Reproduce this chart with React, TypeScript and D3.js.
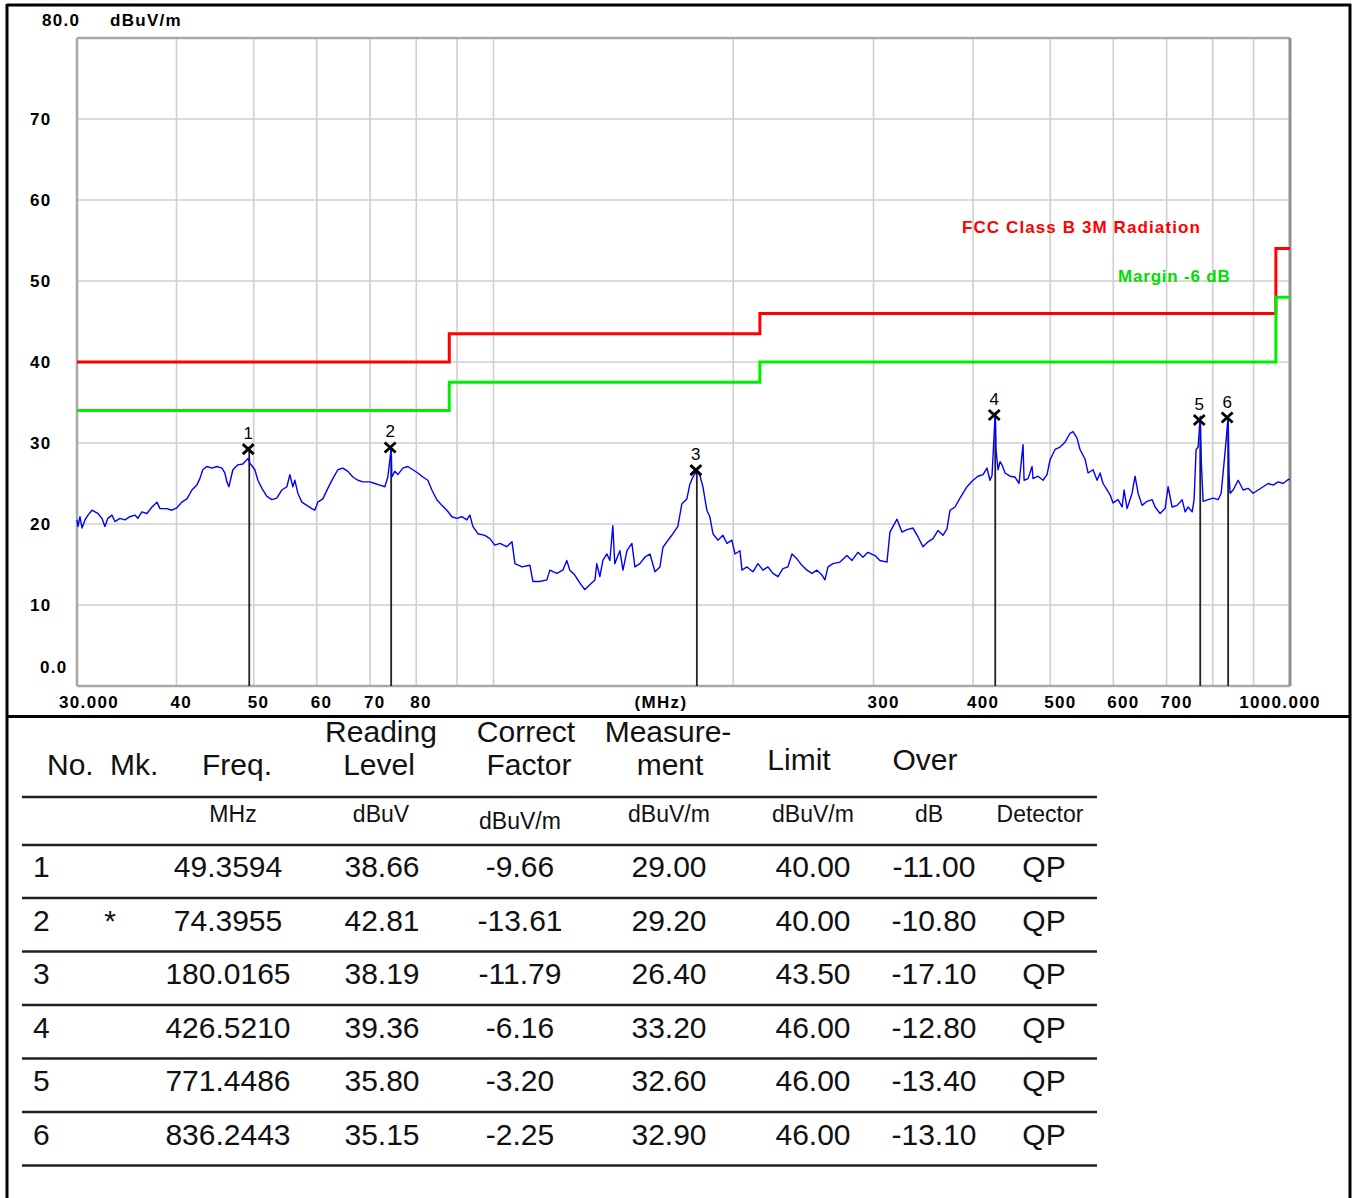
import React from 'react';
import * as d3 from 'd3';

// ---- Spectrum trace (MHz, dBuV/m) ----
const traceFreqMHz = [
  30.0, 30.09, 30.26, 30.44, 30.7, 30.97, 31.33, 31.6, 31.87, 32.24, 32.52, 32.8, 33.19, 33.48, 33.96, 34.46, 34.96, 35.47, 35.77, 36.19,
  36.72, 37.26, 37.8, 38.13, 38.9, 39.47, 40.04, 40.62, 41.22, 41.82, 42.42, 42.79, 43.16, 43.67, 44.31, 44.95, 45.61, 46.0, 46.27, 46.54,
  47.08, 47.76, 48.45, 49.2, 49.45, 50.17, 50.61, 51.2, 51.94, 52.7, 53.46, 54.24, 55.03, 55.51, 55.99, 56.32, 56.8, 57.47, 58.3, 59.15,
  59.66, 60.18, 61.06, 61.95, 62.85, 63.76, 64.69, 65.64, 66.6, 67.57, 68.55, 69.94, 70.96, 72.0, 73.05, 73.68, 74.4, 74.54, 75.19, 75.85,
  76.95, 78.07, 79.2, 80.36, 81.53, 82.72, 83.68, 84.9, 86.14, 87.39, 88.67, 89.95, 91.26, 92.59, 93.4, 94.21, 95.59, 97.54, 98.95,
  100.4, 101.9, 103.9, 105.5, 106.4, 108.6, 111.1, 112.1, 114.3, 116.7, 117.7, 120.1, 122.2, 123.6, 124.7, 126.5, 128.4, 130.2, 132.1, 134.1,
  134.8, 136.0, 137.2, 138.8, 140.0, 141.2, 142.0, 144.1, 145.4, 147.1, 149.2, 150.5, 152.7, 154.9, 157.2, 159.5, 161.8, 163.2, 165.6, 168.0,
  170.4, 172.4, 174.9, 176.4, 178.0, 180.0, 181.6, 183.2, 185.3, 186.9, 188.6, 191.3, 194.1, 196.4, 199.2, 201.0, 203.9, 205.1, 208.1, 211.7,
  214.8, 217.9, 221.1, 224.3, 227.6, 230.9, 234.2, 237.0, 240.4, 243.9, 247.5, 251.1, 254.7, 258.5, 260.7, 263.0, 266.8, 272.3, 277.8, 281.9,
  286.8, 291.0, 295.2, 301.3, 305.6, 311.9, 314.6, 321.1, 325.7, 330.5, 336.3, 341.2, 346.1, 351.2, 356.3, 361.5, 366.7, 371.0, 374.2, 379.7,
  385.2, 393.1, 400.0, 405.8, 411.7, 416.5, 420.1, 422.6, 426.5, 427.5, 430.0, 432.5, 435.0, 438.8, 445.2, 451.6, 456.9, 462.2, 463.6, 469.0,
  474.4, 475.8, 482.7, 489.7, 495.4, 499.7, 507.0, 514.4, 521.9, 529.5, 534.1, 540.3, 545.0, 553.0, 557.8, 565.9, 572.5, 577.5, 582.5, 589.3,
  594.4, 599.6, 608.4, 615.5, 619.0, 624.4, 633.5, 639.0, 644.6, 652.1, 661.6, 671.3, 677.1, 686.9, 696.9, 703.0, 711.2, 721.6, 732.1, 738.5,
  744.9, 753.6, 757.9, 762.3, 766.8, 771.4, 774.0, 777.9, 789.3, 800.8, 812.4, 819.5, 826.7, 831.5, 836.2, 838.6, 841.1, 848.4, 860.8, 873.4,
  886.0, 899.0, 912.1, 925.3, 938.8, 952.4, 966.4, 980.4, 994.7, 1000.0,
];
const traceLevel = [
  20.5, 19.7, 20.9, 19.5, 20.5, 21.1, 21.7, 21.5, 21.3, 20.7, 19.7, 20.7, 21.1, 20.3, 20.7, 20.5, 20.9, 21.1, 20.7, 21.5,
  21.3, 22.1, 22.7, 21.9, 21.9, 21.7, 22.0, 22.7, 23.1, 24.2, 24.8, 25.6, 26.7, 27.1, 26.9, 27.1, 26.9, 26.3, 25.2, 24.6,
  26.7, 27.3, 27.4, 28.1, 27.5, 26.7, 25.4, 24.4, 23.4, 23.0, 23.2, 24.2, 24.6, 26.1, 24.6, 25.4, 23.8, 22.7, 22.3, 21.9,
  21.7, 22.7, 23.1, 24.4, 25.6, 26.7, 26.9, 26.5, 25.8, 25.4, 25.2, 25.2, 25.0, 24.8, 24.6, 25.8, 29.3, 25.8, 26.5, 26.1,
  26.9, 27.1, 26.7, 26.3, 25.8, 25.4, 24.2, 23.0, 22.3, 21.7, 20.9, 20.7, 20.9, 20.5, 21.1, 19.7, 18.8, 18.6, 18.2,
  17.4, 17.6, 17.2, 17.8, 15.1, 14.7, 14.9, 12.9, 12.9, 13.1, 14.3, 13.9, 14.3, 15.5, 14.3, 13.7, 12.7, 11.9, 12.5, 13.1,
  15.1, 13.5, 15.5, 16.3, 15.5, 19.8, 15.1, 16.7, 14.3, 16.7, 17.6, 14.7, 15.1, 15.9, 16.3, 14.1, 14.7, 17.1, 18.0, 18.8,
  19.7, 22.5, 23.1, 24.9, 25.8, 26.6, 26.0, 24.6, 21.7, 20.9, 18.8, 18.0, 18.6, 17.6, 18.0, 16.3, 16.7, 14.3, 14.7, 14.1,
  15.1, 14.3, 14.7, 13.9, 13.5, 14.5, 14.7, 16.3, 15.7, 14.9, 14.3, 13.9, 14.3, 13.7, 13.1, 14.7, 15.1, 15.3, 16.1, 15.5,
  16.5, 15.9, 16.5, 16.1, 15.5, 15.3, 19.0, 20.6, 19.0, 19.3, 19.5, 18.4, 17.2, 17.8, 18.2, 19.2, 18.6, 19.4, 21.7, 22.1,
  23.2, 24.6, 25.4, 25.9, 26.1, 26.9, 25.4, 26.0, 33.7, 29.2, 26.7, 27.7, 27.3, 26.3, 25.9, 25.8, 25.0, 29.8, 25.4, 25.6,
  27.1, 25.6, 25.9, 25.4, 26.1, 27.9, 29.2, 29.5, 30.1, 31.2, 31.4, 30.6, 29.2, 28.0, 26.3, 26.7, 25.4, 26.3, 25.0, 24.2,
  23.6, 22.6, 23.0, 22.1, 24.2, 21.9, 23.8, 25.9, 23.8, 22.3, 22.8, 23.0, 22.1, 21.3, 21.9, 24.6, 22.1, 22.3, 23.0, 21.5,
  22.1, 21.5, 23.0, 29.2, 29.5, 33.3, 27.5, 22.8, 23.0, 23.2, 23.0, 23.8, 27.7, 30.4, 33.3, 26.0, 23.8, 24.2, 25.4, 24.2,
  24.4, 23.8, 24.2, 24.6, 25.0, 24.8, 25.2, 25.0, 25.5, 25.5,
];

// ---- Limit line (FCC Class B 3M) and margin ----
const limitFreqMHz = [30, 88, 216, 960, 1000];
const limitLevel = [40, 43.5, 46, 54, 54];
const marginDb = -6;
const limitName = 'FCC Class B 3M Radiation';
const marginName = 'Margin -6 dB';

// ---- Axis ticks ----
const xTickValues = [30, 40, 50, 60, 70, 80, 300, 400, 500, 600, 700, 1000];
const xTickLabels = ['30.000', '40', '50', '60', '70', '80', '300', '400', '500', '600', '700', '1000.000'];
const xGridValues = [40, 50, 60, 70, 80, 90, 100, 200, 300, 400, 500, 600, 700, 800, 900];
const yTickValues = [0, 10, 20, 30, 40, 50, 60, 70, 80];
const yTickLabels = ['0.0', '10', '20', '30', '40', '50', '60', '70', '80.0'];

// ---- Marker table ----
const markerNo = [1, 2, 3, 4, 5, 6];
const markerMk = ['', '*', '', '', '', ''];
const markerFreq = [49.3594, 74.3955, 180.0165, 426.521, 771.4486, 836.2443];
const readingLevel = [38.66, 42.81, 38.19, 39.36, 35.8, 35.15];
const correctFactor = [-9.66, -13.61, -11.79, -6.16, -3.2, -2.25];
const measurement = [29.0, 29.2, 26.4, 33.2, 32.6, 32.9];
const limitValue = [40.0, 40.0, 43.5, 46.0, 46.0, 46.0];
const overValue = [-11.0, -10.8, -17.1, -12.8, -13.4, -13.1];
const detector = ['QP', 'QP', 'QP', 'QP', 'QP', 'QP'];

const W = 1357;
const H = 1198;
const PL = 77, PR = 1290, PT = 38, PB = 686;

const chartFont = "'Liberation Sans', Arial, sans-serif";
const tableFont = "'Liberation Sans', Arial, sans-serif";

export default function App() {
  const x = d3.scaleLog().domain([30, 1000]).range([PL, PR]);
  const y = d3.scaleLinear().domain([0, 80]).range([PB, PT]);

  const tracePts: [number, number][] = traceFreqMHz.map((f, i) => [f, traceLevel[i]]);
  const traceLine = d3.line<[number, number]>().x(d => x(d[0])).y(d => y(d[1]))(tracePts) || '';

  const limPts: [number, number][] = limitFreqMHz.map((f, i) => [f, limitLevel[i]]);
  const stepLine = d3.line<[number, number]>().x(d => x(d[0])).y(d => y(d[1])).curve(d3.curveStepAfter);
  const limitPath = stepLine(limPts) || '';
  const marginPath = stepLine(limPts.map(([f, v]) => [f, v + marginDb] as [number, number])) || '';

  const chartText = { fontFamily: chartFont, fontWeight: 700, fontSize: 17, letterSpacing: 1.3 } as const;

  // table layout
  const tableLeft = 22, tableRight = 1097;
  const headLineY = 797, unitLineY = 845, rowH = 53;
  const rowLineY = markerNo.map((_, i) => unitLineY + rowH * (i + 1) + 0.5 * i);
  const colCenters = { freq: 228, read: 382, corr: 520, meas: 669, lim: 813, over: 934, det: 1044 };

  return (
    <svg width={W} height={H} style={{ position: 'absolute', left: 0, top: 0, background: '#fff' }}>
      <rect x={0} y={0} width={W} height={H} fill="#fff" />
      {/* outer frame */}
      <line x1={7} y1={5} x2={1351} y2={5} stroke="#000" strokeWidth={3} />
      <line x1={7} y1={4} x2={7} y2={H} stroke="#000" strokeWidth={3} />
      <line x1={1350} y1={4} x2={1350} y2={H} stroke="#000" strokeWidth={3} />
      <line x1={7} y1={716.5} x2={1351} y2={716.5} stroke="#000" strokeWidth={3} />

      {/* grid */}
      {yTickValues.filter(v => v > 0 && v < 80).map(v => (
        <line key={'gy' + v} x1={PL} x2={PR} y1={y(v)} y2={y(v)} stroke="#cfcfcf" strokeWidth={1.6} />
      ))}
      {xGridValues.map(v => (
        <line key={'gx' + v} x1={x(v)} x2={x(v)} y1={PT} y2={PB} stroke="#cfcfcf" strokeWidth={1.6} />
      ))}
      {/* plot border */}
      <line x1={PL} x2={PR} y1={PT} y2={PT} stroke="#a8a8a8" strokeWidth={2.5} />
      <line x1={PL} x2={PR} y1={PB} y2={PB} stroke="#a8a8a8" strokeWidth={2.5} />
      <line x1={PL} x2={PL} y1={PT} y2={PB} stroke="#a8a8a8" strokeWidth={2.5} />
      <line x1={PR} x2={PR} y1={PT} y2={PB} stroke="#909090" strokeWidth={3} />

      {/* limit and margin */}
      <path d={limitPath} fill="none" stroke="#ff0000" strokeWidth={3} />
      <path d={marginPath} fill="none" stroke="#00ee00" strokeWidth={3} />
      <text x={962} y={233} fill="#ff0000" {...chartText} fontSize={17} letterSpacing={1.1}>{limitName}</text>
      <text x={1118} y={282} fill="#00dd00" {...chartText} fontSize={17} letterSpacing={0.8}>{marginName}</text>

      {/* marker vertical lines */}
      {markerFreq.map((f, i) => (
        <line key={'ml' + i} x1={x(f)} x2={x(f)} y1={y(measurement[i])} y2={PB} stroke="#222" strokeWidth={1.8} />
      ))}

      {/* trace */}
      <path d={traceLine} fill="none" stroke="#0000ff" strokeWidth={1.4} strokeLinejoin="round" />

      {/* marker symbols */}
      {markerFreq.map((f, i) => {
        const cx = x(f) - 1;
        const cy = y(measurement[i]) - 2;
        return (
          <g key={'mk' + i}>
            <path d={`M${cx - 5.5},${cy - 5}L${cx + 5.5},${cy + 5}M${cx - 5.5},${cy + 5}L${cx + 5.5},${cy - 5}`} stroke="#000" strokeWidth={2.8} fill="none" />
            <text x={cx} y={cy - 10} textAnchor="middle" fontFamily={chartFont} fontSize={17} fill="#000">{markerNo[i]}</text>
          </g>
        );
      })}

      {/* y axis labels */}
      {yTickValues.map((v, i) => {
        if (v === 0) return <text key={'yl' + v} x={40} y={673} {...chartText}>{yTickLabels[i]}</text>;
        if (v === 80) return <text key={'yl' + v} x={42} y={26} {...chartText}>{yTickLabels[i]}</text>;
        return <text key={'yl' + v} x={30} y={y(v) + 6} {...chartText}>{yTickLabels[i]}</text>;
      })}
      <text x={110} y={26} {...chartText}>dBuV/m</text>

      {/* x axis labels */}
      {xTickValues.map((v, i) => {
        if (i === 0) return <text key={'xl' + v} x={x(v) + 12} y={708} textAnchor="middle" {...chartText}>{xTickLabels[i]}</text>;
        if (i === xTickValues.length - 1) return <text key={'xl' + v} x={x(v) - 10} y={708} textAnchor="middle" {...chartText}>{xTickLabels[i]}</text>;
        return <text key={'xl' + v} x={x(v) - 6} y={708} {...chartText}>{xTickLabels[i]}</text>;
      })}
      <text x={661} y={708} textAnchor="middle" {...chartText}>(MHz)</text>

      {/* table header */}
      <g fontFamily={tableFont} fill="#111" fontSize={30}>
        <text x={47} y={775}>No.</text>
        <text x={110} y={775}>Mk.</text>
        <text x={202} y={775}>Freq.</text>
        <text x={381} y={742} textAnchor="middle">Reading</text>
        <text x={379} y={775} textAnchor="middle">Level</text>
        <text x={526} y={742} textAnchor="middle">Correct</text>
        <text x={529} y={775} textAnchor="middle">Factor</text>
        <text x={668} y={742} textAnchor="middle">Measure-</text>
        <text x={670} y={775} textAnchor="middle">ment</text>
        <text x={799} y={770} textAnchor="middle">Limit</text>
        <text x={925} y={770} textAnchor="middle">Over</text>
      </g>
      <line x1={tableLeft} x2={tableRight} y1={headLineY} y2={headLineY} stroke="#222" strokeWidth={2.5} />
      <g fontFamily={tableFont} fill="#111" fontSize={23} textAnchor="middle">
        <text x={233} y={822}>MHz</text>
        <text x={381} y={822}>dBuV</text>
        <text x={520} y={829}>dBuV/m</text>
        <text x={669} y={822}>dBuV/m</text>
        <text x={813} y={822}>dBuV/m</text>
        <text x={929} y={822}>dB</text>
        <text x={1040} y={822}>Detector</text>
      </g>
      <line x1={tableLeft} x2={tableRight} y1={unitLineY} y2={unitLineY} stroke="#222" strokeWidth={2.5} />

      {/* table rows */}
      {markerNo.map((n, i) => {
        const base = rowLineY[i] - 21;
        return (
          <g key={'row' + i} fontFamily={tableFont} fill="#111" fontSize={30}>
            <text x={33} y={base}>{n}</text>
            <text x={110} y={base} textAnchor="middle">{markerMk[i]}</text>
            <text x={colCenters.freq} y={base} textAnchor="middle">{markerFreq[i].toFixed(4)}</text>
            <text x={colCenters.read} y={base} textAnchor="middle">{readingLevel[i].toFixed(2)}</text>
            <text x={colCenters.corr} y={base} textAnchor="middle">{correctFactor[i].toFixed(2)}</text>
            <text x={colCenters.meas} y={base} textAnchor="middle">{measurement[i].toFixed(2)}</text>
            <text x={colCenters.lim} y={base} textAnchor="middle">{limitValue[i].toFixed(2)}</text>
            <text x={colCenters.over} y={base} textAnchor="middle">{overValue[i].toFixed(2)}</text>
            <text x={colCenters.det} y={base} textAnchor="middle">{detector[i]}</text>
            <line x1={tableLeft} x2={tableRight} y1={rowLineY[i]} y2={rowLineY[i]} stroke="#222" strokeWidth={2.5} />
          </g>
        );
      })}
    </svg>
  );
}
